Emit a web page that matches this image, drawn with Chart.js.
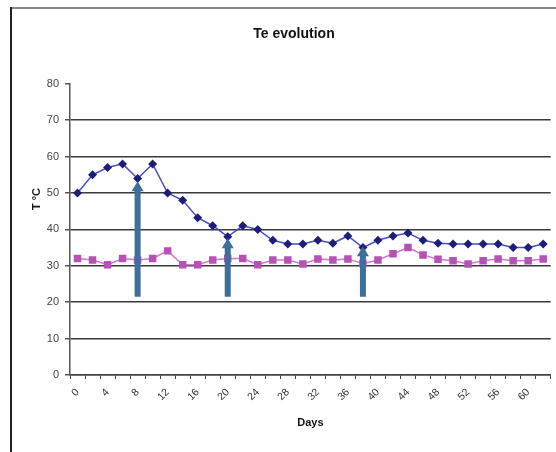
<!DOCTYPE html>
<html>
<head>
<meta charset="utf-8">
<script src="https://cdn.jsdelivr.net/npm/chart.js@4"></script>
<style>
  html, body { margin: 0; padding: 0; background: #fff; }
  #wrap { width: 556px; height: 452px; }
</style>
</head>
<body>
<div id="wrap"><canvas id="canvas" width="556" height="452"></canvas></div>
<script>
// jours de mesure
const days = ['0', '2', '4', '6', '8', '10', '12', '14', '16', '18', '20', '22', '24', '26', '28', '30',
              '32', '34', '36', '38', '40', '42', '44', '46', '48', '50', '52', '54', '56', '58', '60', '62'];
// série haute (losanges)
const serieA = [50, 55, 57, 58, 54, 58, 50, 48, 43.2, 41, 38, 41, 40, 37, 36, 36,
                37, 36.2, 38.2, 35, 37, 38.2, 39, 37, 36.2, 36, 36, 36, 36, 35, 35, 36];
// série basse (carrés)
const serieB = [32, 31.6, 30.3, 32, 31.6, 32, 34.1, 30.3, 30.3, 31.6, 32, 32, 30.3, 31.6, 31.6, 30.5,
                31.9, 31.6, 31.9, 30.6, 31.6, 33.3, 35, 33, 31.8, 31.4, 30.5, 31.4, 31.9, 31.4, 31.4, 31.9];
// flèches : jour, valeur de départ, valeur d'arrivée
const arrowDays = ['8', '20', '38'];
const arrowFrom = [21.5, 21.5, 21.5];
const arrowTo = [53.2, 37.6, 35.4];

const fontName = "'Liberation Sans', Arial, sans-serif";

// cadre + fond blanc
const framePlugin = {
    id: 'frame',
    beforeDraw(chart) {
        const ctx = chart.ctx;
        ctx.save();
        ctx.fillStyle = '#fff';
        ctx.fillRect(0, 0, chart.width, chart.height);
        ctx.strokeStyle = '#8a8a8a';
        ctx.lineWidth = 2;
        ctx.beginPath();
        ctx.moveTo(11, 8);
        ctx.lineTo(chart.width, 8);
        ctx.stroke();
        ctx.strokeStyle = '#222';
        ctx.beginPath();
        ctx.moveTo(11, 7);
        ctx.lineTo(11, chart.height);
        ctx.stroke();
        ctx.restore();
    }
};

// flèches verticales dessinées avec les échelles du graphe
const arrowPlugin = {
    id: 'arrows',
    afterDatasetsDraw(chart) {
        const ctx = chart.ctx;
        const x = chart.scales.x;
        const y = chart.scales.y;
        ctx.save();
        ctx.fillStyle = '#3d6e9c';
        for (let i = 0; i < arrowDays.length; i++) {
            const px = x.getPixelForValue(days.indexOf(arrowDays[i]));
            const y0 = y.getPixelForValue(arrowFrom[i]);
            const y1 = y.getPixelForValue(arrowTo[i]);
            ctx.fillRect(px - 3, y1 + 9, 6, y0 - y1 - 9);
            ctx.beginPath();
            ctx.moveTo(px, y1);
            ctx.lineTo(px + 6, y1 + 10);
            ctx.lineTo(px - 6, y1 + 10);
            ctx.closePath();
            ctx.fill();
        }
        ctx.restore();
    }
};

// titre de l'axe Y
const yTitlePlugin = {
    id: 'ytitle',
    afterDraw(chart) {
        const ctx = chart.ctx;
        ctx.save();
        ctx.translate(37, 199);
        ctx.rotate(-Math.PI / 2);
        ctx.font = 'bold 11px ' + fontName;
        ctx.fillStyle = '#111';
        ctx.textAlign = 'center';
        ctx.textBaseline = 'middle';
        ctx.fillText('T °C', 0, 0);
        ctx.restore();
    }
};

const config = {
    type: 'line',
    data: {
        labels: days,
        datasets: [
            {
                label: 'A',
                data: serieA,
                borderColor: '#4b4bc4',
                borderWidth: 1.5,
                backgroundColor: '#1d1d7a',
                pointStyle: 'rectRot',
                pointRadius: 4.5,
                pointBorderWidth: 0,
                tension: 0
            },
            {
                label: 'B',
                data: serieB,
                borderColor: '#d276d2',
                borderWidth: 1.5,
                backgroundColor: '#b652b6',
                pointStyle: 'rect',
                pointRadius: 5.3,
                pointBorderWidth: 0,
                tension: 0
            }
        ]
    },
    options: {
        responsive: false,
        animation: false,
        layout: { padding: { left: 32, right: 0, top: 0, bottom: 0 } },
        plugins: {
            legend: { display: false },
            tooltip: { enabled: false },
            title: {
                display: true,
                text: 'Te evolution',
                color: '#111',
                font: { family: fontName, size: 14, weight: 'bold' },
                padding: { top: 26, bottom: 41 }
            }
        },
        scales: {
            x: {
                offset: true,
                afterFit: function(scale) {
                    scale.height = 77;
                    scale.paddingLeft = 0;
                    scale.paddingRight = 0;
                },
                grid: { drawOnChartArea: false, offset: true, tickLength: 4, color: '#444' },
                border: { color: '#444', width: 1.5 },
                ticks: {
                    autoSkip: false,
                    maxRotation: 45,
                    minRotation: 45,
                    padding: 7,
                    color: '#333',
                    font: { family: fontName, size: 10.5 },
                    callback: function(value, index) {
                        const d = Number(days[index]);
                        return d % 4 === 0 ? days[index] : '';
                    }
                },
                title: {
                    display: true,
                    text: 'Days',
                    color: '#111',
                    font: { family: fontName, size: 11, weight: 'bold' },
                    padding: { top: 0, bottom: 22 }
                }
            },
            y: {
                min: 0,
                max: 80,
                afterFit: function(scale) { scale.width = 38; },
                grid: {
                    tickLength: 5,
                    lineWidth: 1.5,
                    color: function(ctx) {
                        return ctx.tick && ctx.tick.value === 80 ? 'rgba(0,0,0,0)' : '#3a3a3a';
                    },
                    tickColor: '#555'
                },
                border: { color: '#555', width: 1.5 },
                ticks: {
                    stepSize: 10,
                    padding: 6,
                    color: '#444',
                    font: { family: fontName, size: 11 }
                }
            }
        }
    },
    plugins: [framePlugin, arrowPlugin, yTitlePlugin]
};

new Chart(document.getElementById('canvas'), config);
</script>
</body>
</html>
